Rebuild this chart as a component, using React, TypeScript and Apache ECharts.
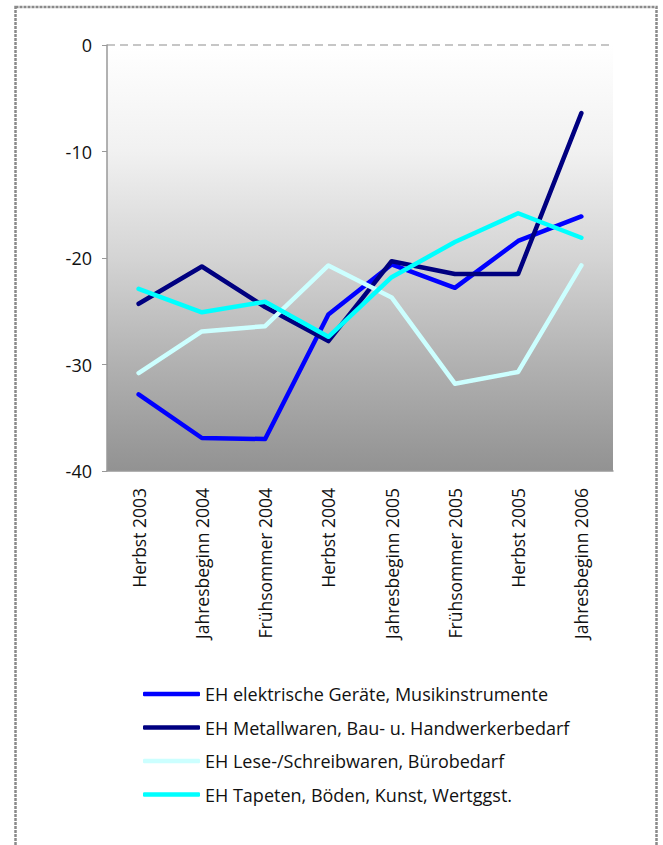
import React, { useEffect, useRef } from "react";
import * as echarts from "echarts";

const categories = [
  "Herbst 2003",
  "Jahresbeginn 2004",
  "Frühsommer 2004",
  "Herbst 2004",
  "Jahresbeginn 2005",
  "Frühsommer 2005",
  "Herbst 2005",
  "Jahresbeginn 2006",
];

const seriesNames = [
  "EH elektrische Geräte, Musikinstrumente",
  "EH Metallwaren, Bau- u. Handwerkerbedarf",
  "EH Lese-/Schreibwaren, Bürobedarf",
  "EH Tapeten, Böden, Kunst, Wertggst.",
];

const elektrischeGeraete = [-32.8, -36.9, -37.0, -25.3, -20.6, -22.8, -18.4, -16.1];
const metallwaren = [-24.3, -20.8, -24.6, -27.8, -20.3, -21.5, -21.5, -6.4];
const leseSchreibwaren = [-30.8, -26.9, -26.4, -20.7, -23.7, -31.8, -30.7, -20.7];
const tapetenBoeden = [-22.9, -25.1, -24.1, -27.4, -21.8, -18.5, -15.8, -18.1];

const seriesValues = [elektrischeGeraete, metallwaren, leseSchreibwaren, tapetenBoeden];
const seriesColors = ["#0000ff", "#000080", "#ccffff", "#00ffff"];

const FONT = "'Open Sans', 'Noto Sans', sans-serif";

export default function App() {
  const ref = useRef<HTMLDivElement>(null);

  useEffect(() => {
    if (!ref.current) return;
    const chart = echarts.init(ref.current, null, { renderer: "svg" });

    const series: any[] = seriesNames.map((name, i) => ({
      name,
      type: "line",
      data: seriesValues[i],
      symbol: "none",
      lineStyle: { color: seriesColors[i], width: 4.5, cap: "round", join: "round" },
      itemStyle: { color: seriesColors[i] },
      z: 3 + i,
    }));

    chart.setOption({
      animation: false,
      textStyle: { fontFamily: FONT },
      graphic: [
        {
          type: "rect",
          shape: { x: 15.5, y: 7, width: 641, height: 860 },
          style: { fill: "none", stroke: "#8a8a8a", lineWidth: 2.5, lineDash: [3, 1] },
          silent: true,
        },
      ],
      grid: {
        left: 107,
        top: 45,
        width: 506,
        height: 426,
        show: true,
        borderWidth: 0,
        backgroundColor: new echarts.graphic.LinearGradient(0, 0, 0, 1, [
          { offset: 0, color: "#ffffff" },
          { offset: 0.25, color: "#f1f1f1" },
          { offset: 0.5, color: "#d4d4d4" },
          { offset: 0.75, color: "#b1b1b1" },
          { offset: 1, color: "#929292" },
        ]),
      },
      xAxis: {
        type: "category",
        data: categories,
        boundaryGap: true,
        axisLine: { show: true, onZero: false, lineStyle: { color: "#999999", width: 1.5 } },
        axisTick: { show: false },
        axisLabel: {
          rotate: 90,
          fontSize: 17.5,
          color: "#111111",
          margin: 17,
          fontFamily: FONT,
          interval: 0,
        },
      },
      yAxis: {
        type: "value",
        min: -40,
        max: 0,
        interval: 10,
        axisLine: { show: true, lineStyle: { color: "#999999", width: 1.5 } },
        axisTick: { show: true, length: 5, lineStyle: { color: "#999999" } },
        // only the zero line is drawn (dashed); the others are transparent
        splitLine: {
          show: true,
          lineStyle: {
            type: [8, 5],
            width: 1.5,
            color: [
              "rgba(0,0,0,0)",
              "rgba(0,0,0,0)",
              "rgba(0,0,0,0)",
              "rgba(0,0,0,0)",
              "#b4b4b4",
            ],
          },
        },
        axisLabel: { fontSize: 18, color: "#111111", margin: 15, fontFamily: FONT },
      },
      legend: {
        orient: "vertical",
        left: 138,
        top: 680,
        itemWidth: 57,
        itemHeight: 4.5,
        itemGap: 15.5,
        icon: "roundRect",
        textStyle: { fontSize: 18, color: "#111111", fontFamily: FONT },
        data: seriesNames.map((name, i) => ({
          name,
          itemStyle: { color: seriesColors[i] },
        })),
      },
      series,
    });

    return () => chart.dispose();
  }, []);

  return (
    <div
      ref={ref}
      style={{ position: "absolute", left: 0, top: 0, width: 663, height: 845 }}
    />
  );
}
